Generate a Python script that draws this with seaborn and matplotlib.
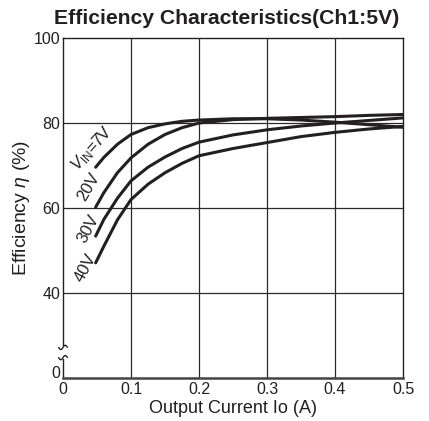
import numpy as np
import pandas as pd
import matplotlib
matplotlib.use("Agg")
import matplotlib.pyplot as plt
import seaborn as sns

# Output current (A) and efficiency (%) for each input voltage
current = [0.048, 0.06, 0.08, 0.1, 0.125, 0.15, 0.175, 0.2, 0.25, 0.3, 0.35, 0.4, 0.45, 0.5]
eff_7v = [69.6, 71.9, 75.0, 77.3, 78.9, 79.8, 80.4, 80.7, 81.0, 81.0, 80.7, 80.2, 79.6, 79.0]
eff_20v = [60.2, 63.6, 68.3, 71.8, 75.0, 77.3, 78.9, 80.0, 80.8, 81.1, 81.3, 81.5, 81.8, 82.0]
eff_30v = [53.4, 57.3, 62.3, 66.4, 69.6, 72.0, 74.0, 75.5, 77.2, 78.4, 79.3, 80.0, 80.6, 81.2]
eff_40v = [47.1, 51.0, 57.2, 62.0, 65.6, 68.3, 70.5, 72.3, 74.0, 75.4, 76.8, 77.8, 78.6, 79.2]
series_names = ["7V", "20V", "30V", "40V"]
curve_labels = [r"$V_{\mathregular{IN}}$=7V", "20V", "30V", "40V"]

x_ticks = [0, 0.1, 0.2, 0.3, 0.4, 0.5]
x_tick_labels = ["0", "0.1", "0.2", "0.3", "0.4", "0.5"]
# the y axis is broken: the bottom row stands for 0 %
y_ticks = [20, 40, 60, 80, 100]
y_tick_labels = ["0", "40", "60", "80", "100"]

df = pd.DataFrame({
    "current": current * 4,
    "eff": eff_7v + eff_20v + eff_30v + eff_40v,
    "vin": sum([[n] * len(current) for n in series_names], []),
})

sns.set_style("white")
plt.rcParams["font.family"] = ["Liberation Sans", "DejaVu Sans"]
plt.rcParams["mathtext.fontset"] = "custom"
plt.rcParams["mathtext.rm"] = "Liberation Sans"
plt.rcParams["mathtext.it"] = "Liberation Sans:italic"

fig = plt.figure(figsize=(4.29, 4.21), dpi=100)
ax = fig.add_axes([0.1469, 0.1021, 0.7925, 0.8076])

ink = "#231f20"
sns.lineplot(data=df, x="current", y="eff", hue="vin", hue_order=series_names,
             palette=[ink] * 4, linewidth=2.2, legend=False, ax=ax,
             estimator=None, sort=True)

ax.set_xlim(0, 0.5)
ax.set_ylim(20, 100)
ax.set_xticks(x_ticks)
ax.set_xticklabels(x_tick_labels)
ax.set_yticks(y_ticks)
ax.set_yticklabels(y_tick_labels)
ax.tick_params(axis="both", length=0, labelsize=11.5, colors=ink)
ax.tick_params(axis="x", pad=3)
ax.tick_params(axis="y", pad=2)
ax.get_yticklabels()[0].set_va("baseline")

for xv in x_ticks[1:-1]:
    ax.axvline(xv, color="#2a2a2a", lw=0.9, zorder=0.5)
for yv in [40, 60, 80]:
    ax.axhline(yv, color="#2a2a2a", lw=0.9, zorder=0.5)

for side in ["top", "right", "left"]:
    ax.spines[side].set_color(ink)
    ax.spines[side].set_linewidth(1.0)
ax.spines["bottom"].set_color("#444444")
ax.spines["bottom"].set_linewidth(1.8)

# break marks on the left spine
trans = ax.get_yaxis_transform()
ax.add_patch(plt.Rectangle((-0.01, 24.4), 0.02, 3.2, transform=trans,
                           facecolor="white", edgecolor="none",
                           clip_on=False, zorder=5))
t = np.linspace(-1, 1, 30)
for yc in [27.2, 24.8]:
    ax.plot(0.013 * t, yc + 0.5 * np.sin(np.pi * t), transform=trans,
            color=ink, lw=1.0, clip_on=False, zorder=6)

# labels for each curve
label_pos = [(0.042, 74.0, 48), (0.038, 64.9, 60), (0.037, 55.0, 62), (0.033, 46.0, 62)]
for txt, (lx, ly, rot) in zip(curve_labels, label_pos):
    ax.text(lx, ly, txt, rotation=rot, ha="center", va="center",
            fontsize=12, color=ink, rotation_mode="anchor")

ax.set_xlabel("Output Current Io (A)", fontsize=13, color=ink, labelpad=2)
ax.set_ylabel(r"Efficiency $\mathit{\eta}$ (%)", fontsize=14, color=ink, labelpad=1)
ax.set_title("Efficiency Characteristics(Ch1:5V)", fontsize=15.2,
             fontweight="bold", color=ink, pad=10, x=0.481)

fig.savefig("out.png", dpi=100)
